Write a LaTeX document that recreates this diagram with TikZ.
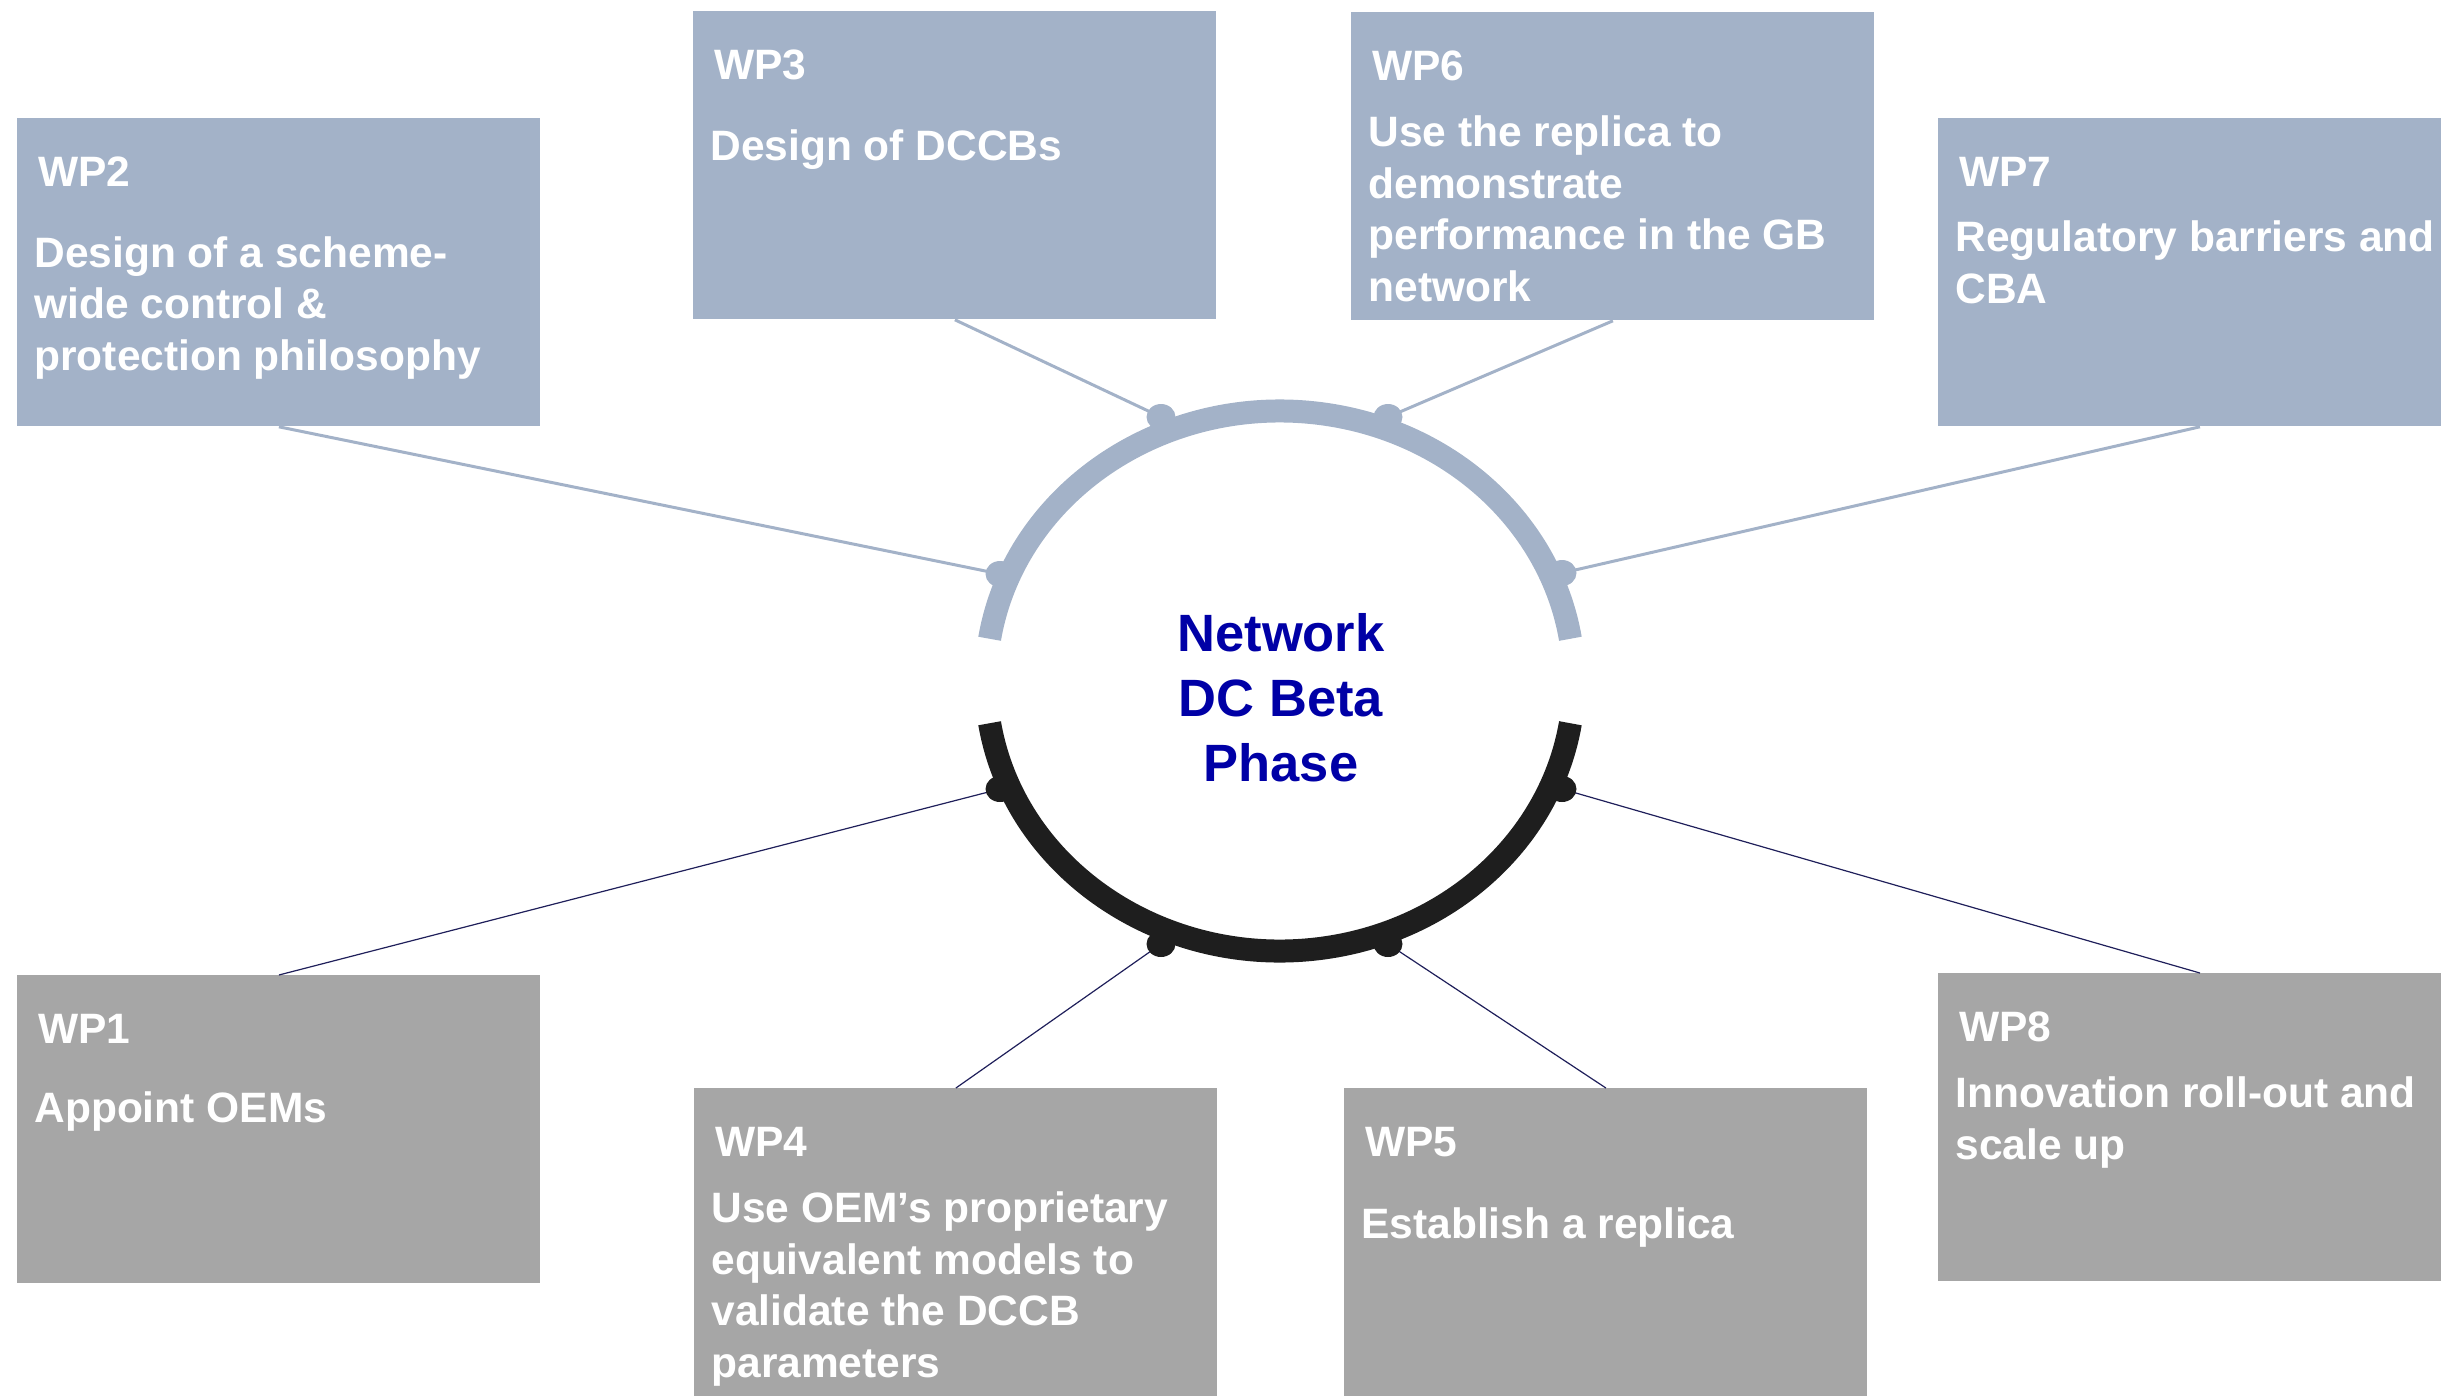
\documentclass[tikz,border=0pt]{standalone}
\usepackage{fontspec}
\setmainfont{Liberation Sans}
\definecolor{upcol}{HTML}{A3B2C8}
\definecolor{lowcol}{HTML}{A6A6A6}
\definecolor{ringdark}{HTML}{1E1E1E}
\definecolor{navyline}{HTML}{1F1F5A}
\definecolor{centerblue}{HTML}{0000A6}
\begin{document}
\begin{tikzpicture}[x=0.5pt,y=-0.5pt,
  wpbox/.style={draw=none, minimum width=261.5pt, minimum height=154pt, anchor=north west, inner sep=0pt},
  upbox/.style={wpbox, fill=upcol},
  lowbox/.style={wpbox, fill=lowcol},
  wptitle/.style={anchor=base west, inner sep=0pt, text=white, font=\fontsize{21.25pt}{25.7pt}\selectfont\bfseries},
  wptext/.style={anchor=base west, inner sep=0pt, align=left, text=white, font=\fontsize{21.25pt}{25.7pt}\selectfont\bfseries},
  upline/.style={draw=upcol, line width=1.5pt},
  lowline/.style={draw=navyline, line width=0.6pt},
  updot/.style={fill=upcol},
  lowdot/.style={fill=ringdark},
]
\useasboundingbox (0,0) rectangle (2441,1397);
\clip (0,0) rectangle (2441,1397);

% boxes
\node[upbox] (wp2) at (17,118) {};
\node[upbox] (wp3) at (693,11) {};
\node[upbox] (wp6) at (1351,12) {};
\node[upbox] (wp7) at (1938,118) {};
\node[lowbox] (wp1) at (17,975) {};
\node[lowbox] (wp4) at (694,1088) {};
\node[lowbox] (wp5) at (1344,1088) {};
\node[lowbox] (wp8) at (1938,973) {};

% titles
\node[wptitle] (t2) at (38,186) {WP2};
\node[wptitle] (t3) at (714,79) {WP3};
\node[wptitle] (t6) at (1372,80) {WP6};
\node[wptitle] (t7) at (1959,186) {WP7};
\node[wptitle] (t1) at (38,1043) {WP1};
\node[wptitle] (t4) at (715,1156) {WP4};
\node[wptitle] (t5) at (1365,1156) {WP5};
\node[wptitle] (t8) at (1959,1041) {WP8};

% descriptions (anchored at the baseline of their last line)
\node[wptext] (x2) at (34,370) {Design of a scheme-\\wide control \&\\protection philosophy};
\node[wptext] (x3) at (710,160) {Design of DCCBs};
\node[wptext] (x6) at (1368,301) {Use the replica to\\demonstrate\\performance in the GB\\network};
\node[wptext] (x7) at (1955,303) {Regulatory barriers and\\CBA};
\node[wptext] (x1) at (34,1122) {Appoint OEMs};
\node[wptext] (x4) at (711,1377) {Use OEM’s proprietary\\equivalent models to\\validate the DCCB\\parameters};
\node[wptext] (x5) at (1361,1238) {Establish a replica};
\node[wptext] (x8) at (1955,1159) {Innovation roll-out and\\scale up};

% ring centre and dots
\coordinate (c) at (1280,681);
\coordinate (d2) at (1000,574);
\coordinate (d3) at (1161,417);
\coordinate (d6) at (1388,417);
\coordinate (d7) at (1562,573);
\coordinate (d1) at (1000,789);
\coordinate (d4) at (1161,944);
\coordinate (d5) at (1388,944);
\coordinate (d8) at (1562,789);

% connectors
\draw[upline] (d2) -- (wp2.south);
\draw[upline] (d3) -- (wp3.south);
\draw[upline] (d6) -- (wp6.south);
\draw[upline] (d7) -- (wp7.south);
\draw[lowline] (d1) -- (wp1.north);
\draw[lowline] (d4) -- (wp4.north);
\draw[lowline] (d5) -- (wp5.north);
\draw[lowline] (d8) -- (wp8.north);

% ring arcs
\draw[draw=upcol, line width=11.5pt] (c) ++(171:147pt and 135pt) arc[start angle=171, end angle=9, x radius=147pt, y radius=135pt];
\draw[draw=ringdark, line width=11.5pt] (c) ++(189:147pt and 135pt) arc[start angle=189, end angle=351, x radius=147pt, y radius=135pt];

% dots
\foreach \d in {d2,d3,d6,d7} \fill[updot] (\d) ellipse [x radius=7.25pt, y radius=6.5pt];
\foreach \d in {d1,d4,d5,d8} \fill[lowdot] (\d) ellipse [x radius=7.25pt, y radius=6.5pt];

% centre text (anchored at the baseline of its last line)
\node[anchor=base, align=center, inner sep=0pt, text=centerblue, font=\fontsize{26.25pt}{32.3pt}\selectfont\bfseries] (hub) at (1281,781) {Network\\DC Beta\\Phase};
\end{tikzpicture}
\end{document}
